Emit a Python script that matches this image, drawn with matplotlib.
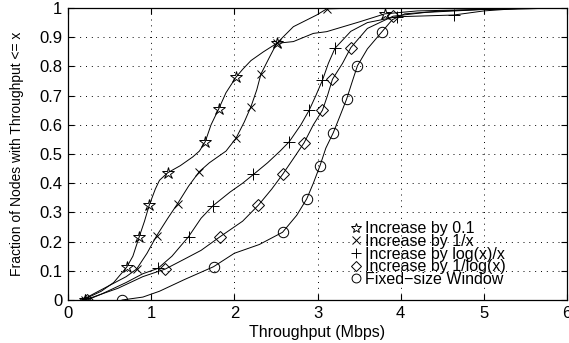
import matplotlib
matplotlib.use("Agg")
import matplotlib.pyplot as plt

# CDF curves (throughput in Mbps, fraction of nodes)
star_x = [0.17, 0.25, 0.4, 0.55, 0.705, 0.78, 0.857, 0.92, 0.977, 1.05, 1.1, 1.2, 1.35, 1.5, 1.58,
          1.65, 1.72, 1.81, 1.9, 2.02, 2.1, 2.2, 2.35, 2.51, 2.71, 2.95, 3.11, 3.51, 3.81, 4.2, 5.0, 6.0]
star_y = [0.0, 0.01, 0.03, 0.06, 0.112, 0.15, 0.217, 0.27, 0.325, 0.38, 0.41, 0.436, 0.46, 0.49, 0.51,
          0.542, 0.6, 0.653, 0.71, 0.763, 0.79, 0.82, 0.85, 0.879, 0.885, 0.913, 0.919, 0.953, 0.98, 0.99, 0.995, 1.0]

inv_x = [0.17, 0.3, 0.5, 0.7, 0.825, 0.95, 1.066, 1.2, 1.318, 1.45, 1.58, 1.7, 1.9, 2.02, 2.12,
         2.2, 2.27, 2.32, 2.42, 2.51, 2.71, 2.99, 3.11, 3.5, 6.0]
inv_y = [0.0, 0.02, 0.05, 0.08, 0.106, 0.16, 0.22, 0.28, 0.33, 0.39, 0.44, 0.47, 0.51, 0.554, 0.61,
         0.662, 0.72, 0.774, 0.83, 0.879, 0.936, 0.976, 0.997, 1.0, 1.0]

logx_x = [0.2, 0.4, 0.7, 0.9, 1.08, 1.25, 1.45, 1.6, 1.74, 1.95, 2.1, 2.23, 2.4, 2.55, 2.66, 2.8,
          2.9, 2.98, 3.06, 3.13, 3.21, 3.4, 3.6, 3.95, 4.3, 4.64, 5.0, 5.5, 6.0]
logx_y = [0.0, 0.02, 0.06, 0.09, 0.108, 0.15, 0.217, 0.28, 0.322, 0.37, 0.4, 0.43, 0.47, 0.51, 0.542, 0.6,
          0.65, 0.7, 0.753, 0.81, 0.862, 0.92, 0.95, 0.97, 0.973, 0.976, 0.99, 1.0, 1.0]

ilog_x = [0.23, 0.4, 0.6, 0.9, 1.17, 1.4, 1.6, 1.83, 2.1, 2.29, 2.45, 2.58, 2.7, 2.84, 2.95, 3.06,
          3.12, 3.18, 3.3, 3.4, 3.6, 3.91, 4.3, 5.0, 6.0]
ilog_y = [0.0, 0.02, 0.04, 0.08, 0.106, 0.14, 0.17, 0.217, 0.27, 0.325, 0.38, 0.43, 0.48, 0.539, 0.6, 0.65,
          0.7, 0.756, 0.81, 0.864, 0.93, 0.972, 0.985, 0.995, 1.0]

fix_x = [0.65, 0.9, 1.1, 1.4, 1.75, 2.0, 2.3, 2.58, 2.75, 2.87, 2.95, 3.03, 3.1, 3.19, 3.27, 3.35,
         3.42, 3.48, 3.6, 3.77, 3.9, 4.05, 4.5, 5.2, 6.0]
fix_y = [0.0, 0.01, 0.03, 0.07, 0.114, 0.16, 0.19, 0.232, 0.29, 0.346, 0.4, 0.46, 0.52, 0.573, 0.63, 0.688,
         0.75, 0.802, 0.86, 0.917, 0.96, 0.98, 0.99, 0.998, 1.0]

# marker positions along each curve
star_mx = [0.2, 0.705, 0.857, 0.977, 1.2, 1.65, 1.81, 2.02, 2.51, 3.81]
star_my = [0.0, 0.112, 0.217, 0.325, 0.436, 0.542, 0.653, 0.763, 0.879, 0.98]
inv_mx = [0.2, 0.825, 1.066, 1.318, 1.58, 2.02, 2.2, 2.32, 2.51, 3.11]
inv_my = [0.0, 0.106, 0.22, 0.33, 0.44, 0.554, 0.662, 0.774, 0.879, 0.997]
logx_mx = [0.2, 1.08, 1.45, 1.74, 2.23, 2.66, 2.9, 3.06, 3.21, 3.95, 4.64]
logx_my = [0.0, 0.108, 0.217, 0.322, 0.43, 0.542, 0.65, 0.753, 0.862, 0.97, 0.976]
ilog_mx = [0.23, 1.17, 1.83, 2.29, 2.58, 2.84, 3.06, 3.18, 3.4, 3.91]
ilog_my = [0.0, 0.106, 0.217, 0.325, 0.43, 0.539, 0.65, 0.756, 0.864, 0.972]
fix_mx = [0.65, 1.75, 2.58, 2.87, 3.03, 3.19, 3.35, 3.48, 3.77]
fix_my = [0.0, 0.114, 0.232, 0.346, 0.46, 0.573, 0.688, 0.802, 0.917]

labels = ["Increase by 0.1", "Increase by 1/x", "Increase by log(x)/x",
          "Increase by 1/log(x)", "Fixed\u2212size Window"]
xticks = [0, 1, 2, 3, 4, 5, 6]
yticks = [0, 0.1, 0.2, 0.3, 0.4, 0.5, 0.6, 0.7, 0.8, 0.9, 1]
ytick_labels = ["0", "0.1", "0.2", "0.3", "0.4", "0.5", "0.6", "0.7", "0.8", "0.9", "1"]

plt.rcParams['font.family'] = ['Liberation Sans', 'DejaVu Sans']

fig = plt.figure(figsize=(5.69, 3.43), dpi=100)
ax = fig.add_axes([68 / 569, 1 - 300 / 343, 499 / 569, 292 / 343])

curves = [(star_x, star_y, star_mx, star_my, '*', 9),
          (inv_x, inv_y, inv_mx, inv_my, 'x', 6),
          (logx_x, logx_y, logx_mx, logx_my, '+', 8),
          (ilog_x, ilog_y, ilog_mx, ilog_my, 'D', 6),
          (fix_x, fix_y, fix_mx, fix_my, 'o', 7.5)]

handles = []
for (cx, cy, mx, my, mk, ms), lab in zip(curves, labels):
    ax.plot(cx, cy, color='k', lw=0.7)
    h, = ax.plot(mx, my, linestyle='none', marker=mk, ms=ms, mfc='none',
                 mec='k', mew=0.7, label=lab)
    handles.append(h)

ax.set_xlim(0, 6)
ax.set_ylim(0, 1)
ax.set_xticks(xticks)
ax.set_xticklabels([str(t) for t in xticks])
ax.set_yticks(yticks)
ax.set_yticklabels(ytick_labels)
ax.tick_params(direction='in', top=True, right=True, length=4, width=0.8,
               labelsize=12, pad=4)
ax.grid(True, color='k', linestyle=(0, (1, 5)), linewidth=0.7)
for sp in ax.spines.values():
    sp.set_linewidth(0.9)

ax.set_xlabel("Throughput (Mbps)", fontsize=11.5)
ax.xaxis.set_label_coords(0.5, -0.085)
ax.set_ylabel("Fraction of Nodes with Throughput <= x", fontsize=10)
ax.yaxis.set_label_coords(-0.088, 0.5)

ax.legend(handles=handles, loc='lower left', bbox_to_anchor=(0.565, 0.045),
          frameon=False, fontsize=11.5, labelspacing=-0.15, handlelength=0.8,
          handletextpad=0.15, borderpad=0, borderaxespad=0, markerscale=0.85)

fig.savefig("out.png", dpi=100)
